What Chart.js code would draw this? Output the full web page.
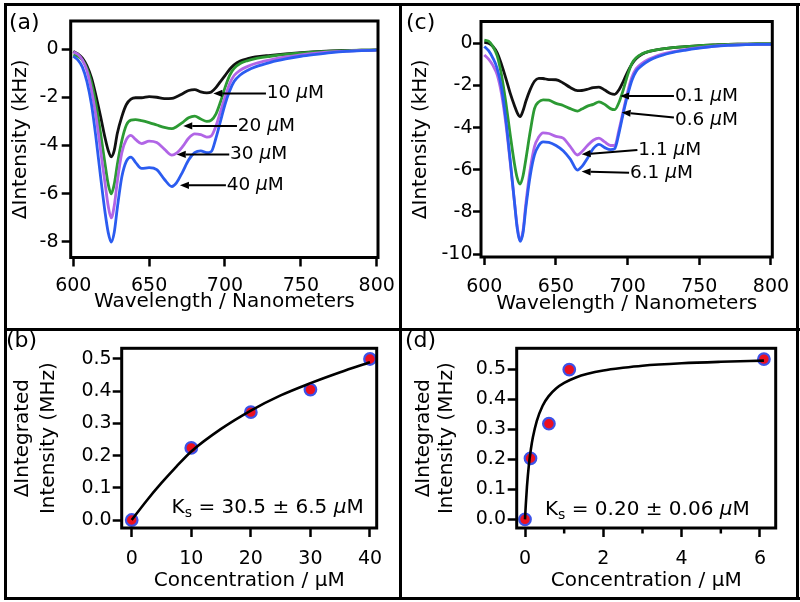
<!DOCTYPE html>
<html><head><meta charset="utf-8">
<script src="https://cdn.jsdelivr.net/npm/chart.js@4.4.1/dist/chart.umd.min.js"></script>
<style>
html,body{margin:0;padding:0;background:#fff;}
#wrap{position:relative;width:800px;height:602px;overflow:hidden;background:#fff;}
canvas{position:absolute;left:0;top:0;}
.ln{position:absolute;background:#000;}
</style></head><body>
<div id="wrap">
<canvas id="ca" width="800" height="602"></canvas>
<canvas id="cb" width="800" height="602"></canvas>
<canvas id="cc" width="800" height="602"></canvas>
<canvas id="cd" width="800" height="602"></canvas>
<div class="ln" style="left:4px;top:3px;width:796px;height:3px"></div>
<div class="ln" style="left:4px;top:597px;width:796px;height:3px"></div>
<div class="ln" style="left:4px;top:3px;width:3px;height:597px"></div>
<div class="ln" style="left:796px;top:3px;width:3px;height:597px"></div>
<div class="ln" style="left:399px;top:3px;width:3px;height:597px"></div>
<div class="ln" style="left:4px;top:328px;width:796px;height:3px"></div>
</div>
<script>
// ---------- data ----------
const wavelengths = [600,603,606,609,612,615,618,621,623,625,627,629,632,635,638,641,645,650,655,660,665,668,672,676,680,684,688,691,694,697,700,703,706,710,715,720,730,740,750,760,770,780,790,800];

// panel (a): ΔIntensity (kHz)
const a10uM = [-0.1,-0.2,-0.38,-0.7,-1.2,-1.95,-2.8,-3.7,-4.2,-4.47,-4.2,-3.5,-2.8,-2.3,-2.08,-2.02,-2.02,-1.97,-2.0,-2.06,-2.05,-1.98,-1.85,-1.72,-1.68,-1.78,-1.82,-1.78,-1.6,-1.35,-1.1,-0.85,-0.66,-0.5,-0.4,-0.33,-0.26,-0.2,-0.15,-0.11,-0.08,-0.06,-0.05,-0.04];
const a20uM = [-0.25,-0.3,-0.45,-0.8,-1.4,-2.3,-3.5,-4.8,-5.6,-6.0,-5.6,-4.8,-3.8,-3.15,-2.95,-2.93,-2.97,-3.05,-3.15,-3.25,-3.3,-3.22,-3.05,-2.85,-2.78,-2.9,-3.0,-2.95,-2.7,-2.2,-1.6,-1.1,-0.8,-0.6,-0.48,-0.4,-0.3,-0.22,-0.17,-0.12,-0.09,-0.07,-0.05,-0.04];
const a30uM = [-0.12,-0.22,-0.45,-0.9,-1.7,-2.8,-4.2,-5.6,-6.5,-7.0,-6.5,-5.5,-4.3,-3.75,-3.58,-3.75,-3.92,-3.82,-3.88,-4.15,-4.4,-4.32,-4.05,-3.7,-3.52,-3.55,-3.65,-3.6,-3.2,-2.6,-2.0,-1.45,-1.1,-0.88,-0.72,-0.6,-0.45,-0.33,-0.24,-0.17,-0.12,-0.09,-0.06,-0.05];
const a40uM = [-0.3,-0.45,-0.75,-1.35,-2.3,-3.7,-5.3,-6.8,-7.6,-8.0,-7.6,-6.6,-5.3,-4.65,-4.48,-4.7,-4.95,-4.92,-5.0,-5.4,-5.7,-5.55,-5.1,-4.6,-4.3,-4.22,-4.3,-4.25,-3.7,-3.0,-2.3,-1.75,-1.35,-1.08,-0.88,-0.74,-0.55,-0.41,-0.3,-0.22,-0.15,-0.1,-0.07,-0.05];

// panel (c)
const c01uM = [0.05,0.0,-0.15,-0.45,-1.0,-1.65,-2.35,-2.95,-3.3,-3.48,-3.2,-2.75,-2.2,-1.8,-1.66,-1.67,-1.72,-1.73,-1.88,-2.1,-2.25,-2.24,-2.18,-2.1,-2.08,-2.22,-2.38,-2.42,-2.2,-1.8,-1.35,-0.98,-0.72,-0.52,-0.38,-0.31,-0.22,-0.16,-0.11,-0.08,-0.05,-0.04,-0.03,-0.03];
const c06uM = [0.15,0.1,-0.15,-0.6,-1.5,-2.8,-4.3,-5.7,-6.4,-6.68,-6.3,-5.5,-4.2,-3.1,-2.78,-2.68,-2.7,-2.85,-2.95,-3.1,-3.22,-3.12,-2.98,-2.9,-2.78,-2.9,-3.1,-3.15,-2.8,-2.2,-1.5,-0.95,-0.68,-0.5,-0.38,-0.31,-0.22,-0.16,-0.11,-0.08,-0.05,-0.04,-0.03,-0.03];
const c11uM = [-0.55,-0.75,-1.05,-1.5,-2.4,-3.8,-5.6,-7.5,-8.7,-9.35,-8.9,-7.6,-6.0,-4.9,-4.45,-4.25,-4.28,-4.42,-4.5,-4.9,-5.3,-5.15,-4.85,-4.6,-4.5,-4.68,-4.85,-4.85,-4.1,-3.2,-2.3,-1.6,-1.2,-0.95,-0.75,-0.6,-0.42,-0.3,-0.21,-0.14,-0.09,-0.06,-0.05,-0.05];
const c61uM = [-0.15,-0.35,-0.7,-1.2,-2.1,-3.6,-5.5,-7.5,-8.8,-9.4,-9.0,-7.8,-6.3,-5.3,-4.85,-4.68,-4.7,-4.85,-5.1,-5.5,-6.02,-5.85,-5.45,-5.0,-4.8,-4.95,-5.05,-5.0,-4.25,-3.3,-2.45,-1.75,-1.32,-1.05,-0.82,-0.66,-0.46,-0.33,-0.23,-0.15,-0.1,-0.07,-0.05,-0.05];

// panel (b): ΔIntegrated Intensity (MHz) vs concentration
const concB = [0,10,20,30,40];
const intB  = [0,0.224,0.335,0.405,0.5];
const fitBx = [0,2.5,5,7.5,10,15,20,25,30,35,40];
const fitBy = [0,0.06,0.115,0.166,0.213,0.283,0.34,0.387,0.425,0.459,0.49];

// panel (d)
const concD = [0,0.14,0.61,1.13,6.1];
const intD  = [0,0.203,0.318,0.498,0.533];
const fitDx = [0,0.02,0.05,0.1,0.15,0.2,0.3,0.45,0.6,0.8,1.0,1.3,1.6,2,2.5,3,4,5,6.1];
const fitDy = [0,0.048,0.109,0.182,0.233,0.272,0.327,0.378,0.409,0.436,0.454,0.472,0.484,0.495,0.504,0.511,0.519,0.524,0.528];

// tick labels
const xTicksSpec = [600,650,700,750,800];
const yTicksA = [0,-2,-4,-6,-8];
const yTicksC = [0,-2,-4,-6,-8,-10];
const xTicksB = [0,10,20,30,40];
const xTicksD = [0,2,4,6];
const xMinorD = [1,3,5];
const yTicksBD = [0,0.1,0.2,0.3,0.4,0.5];

// annotations (data coordinates)
const annotA = [
  {text:'10 μM', at:[727.5,-1.84], from:[727,-1.84], tip:[692.3,-1.84]},
  {text:'20 μM', at:[708.4,-3.19], from:[707.9,-3.19], tip:[672.5,-3.19]},
  {text:'30 μM', at:[703.3,-4.37], from:[702.8,-4.37], tip:[668.2,-4.37]},
  {text:'40 μM', at:[701.1,-5.65], from:[700.6,-5.65], tip:[670.3,-5.65]}
];
const annotC = [
  {text:'0.1 μM', at:[733,-2.5], from:[732.3,-2.5], tip:[694.7,-2.5]},
  {text:'0.6 μM', at:[733,-3.64], from:[732.3,-3.52], tip:[695.8,-3.28]},
  {text:'1.1 μM', at:[707.4,-5.06], from:[706.8,-5.06], tip:[667.9,-5.27]},
  {text:'6.1 μM', at:[701.6,-6.17], from:[701,-6.14], tip:[667.9,-6.09]}
];

// ---------- drawing ----------
const FAM = "'DejaVu Sans', sans-serif";
const COL = {black:'#111111', green:'#2c9a33', purple:'#b165e6', blue:'#2b5cf0'};
const TICKSIZE = 19;

const xy = (xs, ys) => xs.map((x,i)=>({x, y:ys[i]}));
function specSet(vals, color){
  return {data: xy(wavelengths, vals), borderColor: color, borderWidth: 2.8, pointRadius: 0,
          cubicInterpolationMode: 'monotone', fill: false};
}
function fitSet(xs, ys){
  return {data: xy(xs, ys), borderColor: '#000', borderWidth: 2.6, pointRadius: 0,
          cubicInterpolationMode: 'monotone', fill: false};
}
function ptSet(xs, ys){
  return {data: xy(xs, ys), showLine: false, pointRadius: 5.8, pointBorderWidth: 2.2,
          pointBackgroundColor: '#ec1020', pointBorderColor: '#3d52e8', borderColor: '#3d52e8'};
}

function muText(ctx, text, x, y, size){
  const parts = text.split('μ');
  let cx = x;
  ctx.textAlign = 'left';
  parts.forEach((p,i)=>{
    if (i>0){ ctx.font = `italic ${size}px ${FAM}`; ctx.fillText('μ', cx, y); cx += ctx.measureText('μ').width; }
    ctx.font = `${size}px ${FAM}`; ctx.fillText(p, cx, y); cx += ctx.measureText(p).width;
  });
}
function drawAnnots(chart, list){
  const {ctx, scales:{x, y}} = chart;
  ctx.save();
  ctx.strokeStyle = '#000'; ctx.fillStyle = '#000'; ctx.lineWidth = 2;
  list.forEach(a=>{
    const x0 = x.getPixelForValue(a.from[0]), y0 = y.getPixelForValue(a.from[1]);
    const x1 = x.getPixelForValue(a.tip[0]),  y1 = y.getPixelForValue(a.tip[1]);
    const ang = Math.atan2(y1-y0, x1-x0), hl = 9, hw = 3.6;
    const bx = x1 - hl*Math.cos(ang), by = y1 - hl*Math.sin(ang);
    ctx.beginPath(); ctx.moveTo(x0,y0); ctx.lineTo(bx,by); ctx.stroke();
    ctx.beginPath(); ctx.moveTo(x1,y1);
    ctx.lineTo(bx + hw*Math.sin(ang), by - hw*Math.cos(ang));
    ctx.lineTo(bx - hw*Math.sin(ang), by + hw*Math.cos(ang));
    ctx.closePath(); ctx.fill();
    ctx.textBaseline = 'middle';
    muText(ctx, a.text, x.getPixelForValue(a.at[0]), y.getPixelForValue(a.at[1]), 18.5);
  });
  ctx.restore();
}
function drawKs(chart, at, rest){
  const {ctx, scales:{x, y}} = chart;
  const px = x.getPixelForValue(at[0]), py = y.getPixelForValue(at[1]);
  ctx.save(); ctx.fillStyle = '#000'; ctx.textBaseline = 'alphabetic'; ctx.textAlign = 'left';
  const size = 20;
  ctx.font = `${size}px ${FAM}`; ctx.fillText('K', px, py);
  let cx = px + ctx.measureText('K').width;
  ctx.font = `${size*0.7}px ${FAM}`; ctx.fillText('s', cx, py + 4);
  cx += ctx.measureText('s').width;
  muText(ctx, rest, cx, py, size);
  ctx.restore();
}
function panelLabel(chart, t, x, y){
  const ctx = chart.ctx;
  ctx.save(); ctx.fillStyle = '#000'; ctx.font = `22px ${FAM}`;
  ctx.textBaseline = 'middle'; ctx.textAlign = 'left'; ctx.fillText(t, x, y); ctx.restore();
}

function makePanel(id, P){
  return new Chart(document.getElementById(id), {
    type: 'line',
    data: {datasets: P.datasets},
    options: {
      responsive: false, animation: false, events: [],
      layout: {padding: {left: P.padLeft, top: P.ca.t, right: 800 - P.ca.r, bottom: 602 - P.axisBottom}},
      plugins: {legend: {display: false}, tooltip: {enabled: false}},
      scales: {
        x: {
          type: 'linear', position: 'bottom', min: P.xMin, max: P.xMax,
          afterBuildTicks: s => { s.ticks = P.xTicks.map(v => ({value: v})); },
          afterFit: s => { s.height = P.axisBottom - P.ca.b; s.paddingLeft = 0; s.paddingRight = 0; },
          grid: {display: true, drawOnChartArea: false, drawTicks: true, tickLength: P.tick, tickWidth: 2.5, tickColor: '#000'},
          border: {display: false},
          ticks: {autoSkip: false, maxRotation: 0, minRotation: 0, color: '#000', padding: P.xTickPad,
                  font: {family: FAM, size: TICKSIZE}, callback: v => String(v)},
          title: {display: true, text: P.xTitle, color: '#000', font: {family: FAM, size: 20},
                  padding: {top: 0, bottom: P.xTitlePB}}
        },
        y: {
          type: 'linear', position: 'left', min: P.yMin, max: P.yMax,
          afterBuildTicks: s => { s.ticks = P.yTicks.map(v => ({value: v})); },
          afterFit: s => { s.width = P.ca.l - P.padLeft; s.paddingTop = 0; s.paddingBottom = 0; },
          grid: {display: true, drawOnChartArea: false, drawTicks: true, tickLength: P.tick, tickWidth: 2.5, tickColor: '#000'},
          border: {display: false},
          ticks: {autoSkip: false, color: '#000', padding: P.yTickPad,
                  font: {family: FAM, size: TICKSIZE}, callback: P.yFmt},
          title: {display: true, text: P.yTitle, color: '#000',
                  font: {family: FAM, size: 20, lineHeight: P.yTitleLH || 1.2},
                  padding: {top: P.yTitlePad, bottom: 0}}
        }
      }
    },
    plugins: [{
      id: 'deco',
      afterDatasetsDraw(chart){
        const c = chart.chartArea, ctx = chart.ctx;
        ctx.save(); ctx.strokeStyle = '#000'; ctx.lineWidth = 3;
        ctx.strokeRect(c.left, c.top, c.right - c.left, c.bottom - c.top);
        ctx.restore();
      },
      afterDraw(chart){ P.deco(chart); }
    }]
  });
}

// (a)
makePanel('ca', {
  ca: {l: 70.7, t: 21, r: 378, b: 257.5}, padLeft: 0, axisBottom: 328,
  xMin: 598.29, xMax: 800.86, yMin: -8.643, yMax: 1.161,
  xTicks: xTicksSpec, yTicks: yTicksA, tick: 9, xTickPad: 8.6, yTickPad: 3.2,
  xTitle: 'Wavelength / Nanometers', xTitlePB: 14.5,
  yTitle: 'ΔIntensity (kHz)', yTitlePad: 9, yFmt: v => String(v),
  datasets: [specSet(a40uM, COL.blue), specSet(a30uM, COL.purple), specSet(a20uM, COL.green), specSet(a10uM, COL.black)],
  deco: ch => { drawAnnots(ch, annotA); panelLabel(ch, '(a)', 9, 23.5); }
});
// (c)
makePanel('cc', {
  ca: {l: 481, t: 21.5, r: 772.3, b: 257}, padLeft: 402, axisBottom: 328,
  xMin: 597.7, xMax: 800.91, yMin: -10.142, yMax: 1.035,
  xTicks: xTicksSpec, yTicks: yTicksC, tick: 8, xTickPad: 10.6, yTickPad: 0.5,
  xTitle: 'Wavelength / Nanometers', xTitlePB: 12,
  yTitle: 'ΔIntensity (kHz)', yTitlePad: 6.7, yFmt: v => String(v),
  datasets: [specSet(c61uM, COL.blue), specSet(c11uM, COL.purple), specSet(c06uM, COL.green), specSet(c01uM, COL.black)],
  deco: ch => { drawAnnots(ch, annotC); panelLabel(ch, '(c)', 406, 23.5); }
});
// (b)
makePanel('cb', {
  ca: {l: 121.7, t: 348.3, r: 376.7, b: 528}, padLeft: 0, axisBottom: 597,
  xMin: -1.679, xMax: 41.125, yMin: -0.0248, yMax: 0.5332,
  xTicks: xTicksB, yTicks: yTicksBD, tick: 9, xTickPad: 10.3, yTickPad: 1,
  xTitle: 'Concentration / μM', xTitlePB: 4,
  yTitle: ['ΔIntegrated', 'Intensity (MHz)'], yTitleLH: 1.325, yTitlePad: 9.25, yFmt: v => v.toFixed(1),
  datasets: [fitSet(fitBx, fitBy), ptSet(concB, intB)],
  deco: ch => { drawKs(ch, [6.7, 0.021], ' = 30.5 ± 6.5 μM'); panelLabel(ch, '(b)', 6, 341); }
});
// (d)
makePanel('cd', {
  ca: {l: 516.7, t: 348.3, r: 775.7, b: 528}, padLeft: 402, axisBottom: 597,
  xMin: -0.212, xMax: 6.401, yMin: -0.0289, yMax: 0.5689,
  xTicks: xTicksD, yTicks: yTicksBD, tick: 9, xTickPad: 10.3, yTickPad: 1.7,
  xTitle: 'Concentration / μM', xTitlePB: 4,
  yTitle: ['ΔIntegrated', 'Intensity (MHz)'], yTitleLH: 1.17, yTitlePad: 9.6, yFmt: v => v.toFixed(1),
  datasets: [fitSet(fitDx, fitDy), ptSet(concD, intD)],
  deco: ch => {
    const {ctx, scales:{x}, chartArea:c} = ch;
    ctx.save(); ctx.strokeStyle = '#000'; ctx.lineWidth = 2.5;
    xMinorD.forEach(v => { const px = x.getPixelForValue(v); ctx.beginPath(); ctx.moveTo(px, c.bottom); ctx.lineTo(px, c.bottom + 5.5); ctx.stroke(); });
    ctx.restore();
    drawKs(ch, [0.51, 0.014], ' = 0.20 ± 0.06 μM');
    panelLabel(ch, '(d)', 405, 341);
  }
});
</script>
</body></html>
